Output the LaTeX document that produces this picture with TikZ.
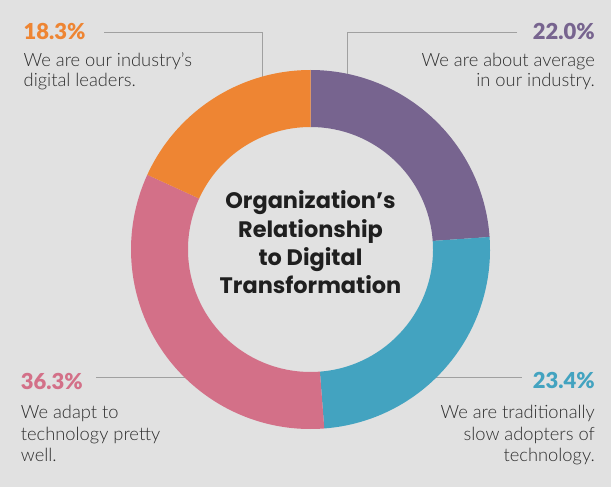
\documentclass[tikz,border=0pt]{standalone}
\usepackage{fontspec}
\usetikzlibrary{calc}
\setmainfont{Lato}
\newfontfamily\lightfont{Lato Light}
\newfontfamily\heavyfont{Lato Black}
\newfontfamily\titlefont{Poppins}
\definecolor{bg}{HTML}{E1E1E1}
\definecolor{corange}{HTML}{EE8533}
\definecolor{cpurple}{HTML}{77648F}
\definecolor{cblue}{HTML}{43A3C0}
\definecolor{cpink}{HTML}{D37088}
\definecolor{ctext}{HTML}{2E2E2E}
\definecolor{cline}{HTML}{A0A0A0}
\tikzset{
  pct/.style={inner sep=0pt, font=\heavyfont\fontsize{22}{22}\selectfont},
  desc/.style={inner sep=0pt, text=ctext, font=\lightfont\fontsize{18.3}{20}\selectfont},
  ttl/.style={inner sep=0pt, text=black!88, font=\titlefont\fontsize{22.4}{22.4}\selectfont\bfseries, anchor=base},
  leader/.style={draw=cline, line width=1pt},
}
\newcommand\ringseg[3]{%
  \fill[#1] (c) ++(-#2:179.5) arc[start angle=-#2,end angle=-#3,radius=179.5]
    -- ($(c)+(-#3:122.5)$) arc[start angle=-#3,end angle=-#2,radius=122.5] -- cycle;}
\begin{document}
\begin{tikzpicture}[x=1pt,y=-1pt]
\fill[bg] (0,0) rectangle (611,487);
\useasboundingbox (0,0) rectangle (611,487);
\coordinate (c) at (310.5,249.5);
% leader lines
\coordinate (o1) at (104,32.5);
\coordinate (o2) at (262,32.5);
\coordinate (o3) at (262,100);
\coordinate (p1) at (517,32.5);
\coordinate (p2) at (347,32.5);
\coordinate (p3) at (347,100);
\coordinate (k1) at (96,377);
\coordinate (k2) at (200,377);
\coordinate (b1) at (420,377);
\coordinate (b2) at (522,377);
\draw[leader] (o1) -- (o2) -- (o3);
\draw[leader] (p1) -- (p2) -- (p3);
\draw[leader] (k1) -- (k2);
\draw[leader] (b1) -- (b2);
% donut
\ringseg{cpurple}{90}{4}
\ringseg{cblue}{4}{-85.6}
\ringseg{cpink}{-85.6}{-204.6}
\ringseg{corange}{-204.6}{-270}
% title
\node[ttl] (t1) at (310.5,208) {Organization’s};
\node[ttl] (t2) at (310.5,237) {Relationship};
\node[ttl] (t3) at (310.5,265) {to Digital};
\node[ttl] (t4) at (310.5,293) {Transformation};
% orange label
\node[pct, text=corange, anchor=base west] (op) at (23.5,40) {18.3\%};
\node[desc, anchor=base west] (od1) at (23.5,66.7) {We are our industry’s};
\node[desc, anchor=base west] (od2) at (23.5,87) {digital leaders.};
% purple label
\node[pct, text=cpurple, anchor=base east] (pp) at (595,39.5) {22.0\%};
\node[desc, anchor=base east] (pd1) at (595,66.7) {We are about average};
\node[desc, anchor=base east] (pd2) at (595,87) {in our industry.};
% pink label
\node[pct, text=cpink, anchor=base west] (kp) at (20.7,389.3) {36.3\%};
\node[desc, anchor=base west] (kd1) at (20.7,418.3) {We adapt to};
\node[desc, anchor=base west] (kd2) at (20.7,440) {technology pretty};
\node[desc, anchor=base west] (kd3) at (20.7,461.7) {well.};
% blue label
\node[pct, text=cblue, anchor=base east] (bp) at (595,388.3) {23.4\%};
\node[desc, anchor=base east] (bd1) at (595,418.3) {We are traditionally};
\node[desc, anchor=base east] (bd2) at (595,440) {slow adopters of};
\node[desc, anchor=base east] (bd3) at (595,461.7) {technology.};
\end{tikzpicture}
\end{document}
